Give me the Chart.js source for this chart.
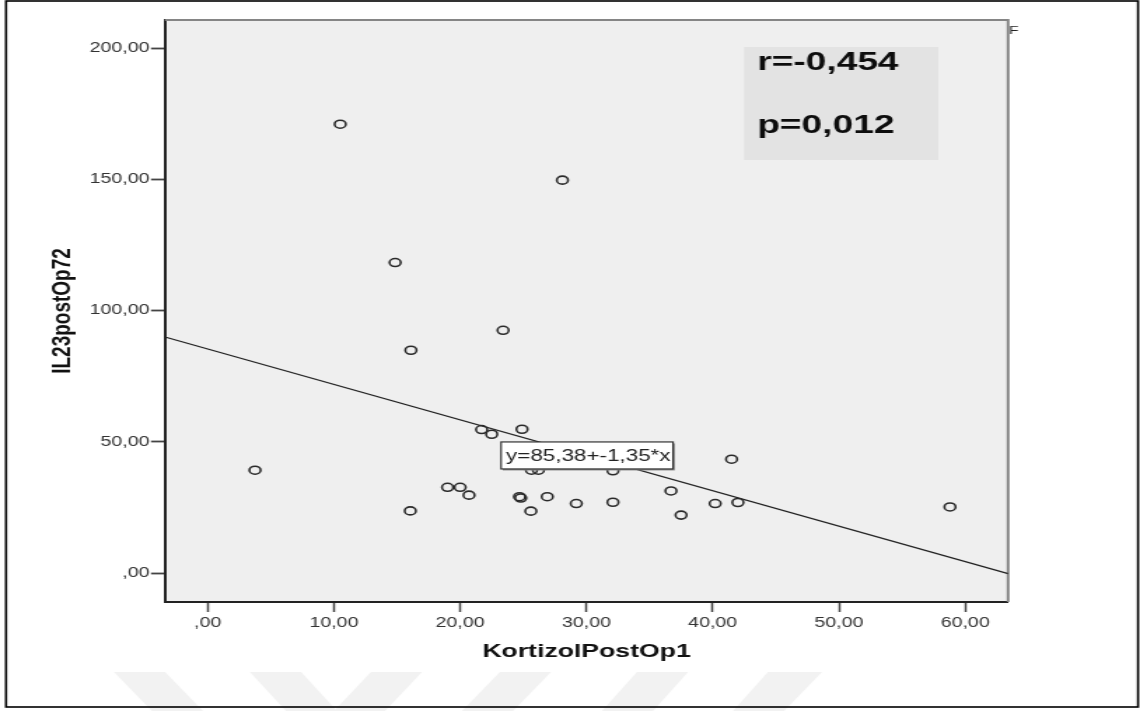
<!DOCTYPE html>
<html>
<head>
<meta charset="utf-8">
<script src="https://cdn.jsdelivr.net/npm/chart.js@4.4.0/dist/chart.umd.min.js"></script>
<style>
  html, body { margin: 0; padding: 0; background: #fff; overflow: hidden; }
  #chart { display: block; }
</style>
</head>
<body>
<!-- the original picture is stretched sideways, so draw narrow and widen it -->
<canvas id="chart" width="814" height="711" style="width:1140px;height:711px"></canvas>
<script>
// data
const kortizolPostOp1 = [3.75, 10.5, 14.85, 16.1, 16.05, 23.4, 28.1, 19.0, 20.0, 20.7,
  21.7, 22.5, 24.9, 25.65, 26.2, 32.1, 24.7, 24.8, 26.9, 25.6,
  29.2, 32.1, 36.7, 37.5, 40.2, 42.0, 41.5, 58.8];
const il23PostOp72 = [39.2, 171.0, 118.3, 84.9, 23.7, 92.5, 149.7, 32.7, 32.7, 29.7,
  54.7, 52.9, 54.8, 39.2, 39.2, 39.0, 29.1, 28.6, 29.1, 23.6,
  26.5, 27.0, 31.3, 22.1, 26.5, 26.9, 43.4, 25.2];
const xTicks = [0, 10, 20, 30, 40, 50, 60];
const yTicks = [0, 50, 100, 150, 200];
const xMin = -3.38, xMax = 63.4;
const yMin = -11, yMax = 210.7;
const fitIntercept = 85.38;
const fitSlope = -1.35;
const statLines = ["r=-0,454", "p=0,012"];
const fitLabel = "y=85,38+-1,35*x";

const sx = 1140 / 814; // horizontal stretch of the picture
const FONT = "'Liberation Sans', Arial, sans-serif";

function fmt(v) {
  return v === 0 ? ",00" : v.toFixed(2).replace(".", ",");
}

// faint watermark chevrons at the bottom (actual pixel x, top / bottom pairs)
const marks = [
  [114, 165, 203, 152],
  [250, 301, 337, 286],
  [371, 422, 385, 334],
  [500, 551, 513, 462],
  [637, 688, 653, 602],
  [768, 822, 784, 733],
];

const decor = {
  id: "decor",
  beforeDraw(chart) {
    const { ctx, chartArea: ca } = chart;
    ctx.save();
    ctx.fillStyle = "#fff";
    ctx.fillRect(0, 0, chart.width, chart.height);
    ctx.fillStyle = "#f2f2f2";
    marks.forEach((m) => {
      ctx.beginPath();
      ctx.moveTo(m[0] / sx, 672);
      ctx.lineTo(m[1] / sx, 672);
      ctx.lineTo(m[2] / sx, 711);
      ctx.lineTo(m[3] / sx, 711);
      ctx.closePath();
      ctx.fill();
    });
    ctx.fillStyle = "#efefef";
    ctx.fillRect(ca.left, ca.top, ca.right - ca.left, ca.bottom - ca.top);
    ctx.restore();
  },
  beforeDatasetsDraw(chart) {
    const { ctx, chartArea: ca } = chart;
    const cw = ca.right - ca.left, ch = ca.bottom - ca.top;
    // r / p box
    const bx = ca.left + 0.687 * cw, by = ca.top + 0.0464 * ch;
    ctx.save();
    ctx.fillStyle = "#e3e3e3";
    ctx.fillRect(bx, by, 194 / sx, 113);
    ctx.fillStyle = "#0d0d0d";
    ctx.font = "bold 26.5px " + FONT;
    ctx.textBaseline = "middle";
    ctx.fillText(statLines[0], bx + 9.3, by + 16);
    ctx.fillText(statLines[1], bx + 9.3, by + 79);
    // frame top and right
    ctx.strokeStyle = "#858585";
    ctx.lineWidth = 2;
    ctx.beginPath();
    ctx.moveTo(ca.left, ca.top);
    ctx.lineTo(ca.right, ca.top);
    ctx.lineTo(ca.right, ca.bottom);
    ctx.stroke();
    ctx.restore();
  },
  afterDatasetsDraw(chart) {
    const { ctx, chartArea: ca } = chart;
    const cw = ca.right - ca.left, ch = ca.bottom - ca.top;
    const bx = ca.left + 0.3986 * cw, by = ca.top + 0.725 * ch;
    const bw = 172 / sx, bh = 27;
    ctx.save();
    ctx.fillStyle = "#8a8a8a";
    ctx.fillRect(bx + 1.2, by + 1.5, bw, bh);
    ctx.fillStyle = "#fff";
    ctx.fillRect(bx, by, bw, bh);
    ctx.strokeStyle = "#333";
    ctx.lineWidth = 1.2;
    ctx.strokeRect(bx, by, bw, bh);
    ctx.fillStyle = "#222";
    ctx.font = "16px " + FONT;
    ctx.textBaseline = "middle";
    ctx.fillText(fitLabel, bx + 3.6, by + bh / 2 + 1);
    ctx.restore();
  },
  afterDraw(chart) {
    const { ctx } = chart;
    ctx.save();
    ctx.fillStyle = "#222";
    ctx.font = "11px " + FONT;
    ctx.textBaseline = "middle";
    ctx.fillText("F", 1009 / sx, 31);
    ctx.strokeStyle = "#000";
    ctx.lineWidth = 1.6;
    ctx.strokeRect(4.3, 1, 1138 / sx - 4.3, 706);
    ctx.restore();
  },
};

const points = kortizolPostOp1.map((x, i) => ({ x: x, y: il23PostOp72[i] }));
const fitLine = [xMin, xMax].map((x) => ({ x: x, y: fitIntercept + fitSlope * x }));

new Chart(document.getElementById("chart"), {
  type: "scatter",
  data: {
    datasets: [
      {
        data: points,
        pointStyle: "circle",
        pointRadius: 4,
        pointBorderWidth: 1.6,
        borderColor: "#2a2a2a",
        backgroundColor: "rgba(0,0,0,0)",
      },
      {
        type: "line",
        data: fitLine,
        borderColor: "#222",
        borderWidth: 1.3,
        pointRadius: 0,
        fill: false,
      },
    ],
  },
  options: {
    responsive: false,
    animation: false,
    devicePixelRatio: 1,
    layout: { padding: { left: 0, top: 20, right: 94.2, bottom: 0 } },
    plugins: { legend: { display: false }, tooltip: { enabled: false } },
    scales: {
      x: {
        type: "linear",
        position: "bottom",
        min: xMin,
        max: xMax,
        afterBuildTicks: (scale) => { scale.ticks = xTicks.map((v) => ({ value: v })); },
        afterFit: (scale) => { scale.height = 109; },
        grid: { drawOnChartArea: false, tickLength: 10, tickWidth: 1.5, tickColor: "#444" },
        border: { color: "#222", width: 2 },
        ticks: {
          padding: 3,
          color: "#333",
          font: { family: FONT, size: 14 },
          maxRotation: 0,
          callback: (v) => fmt(v),
        },
        title: {
          display: true,
          text: "KortizolPostOp1",
          color: "#111",
          font: { family: FONT, size: 19, weight: "bold" },
          padding: { top: 0, bottom: 47.6 },
        },
      },
      y: {
        type: "linear",
        min: yMin,
        max: yMax,
        afterBuildTicks: (scale) => { scale.ticks = yTicks.map((v) => ({ value: v })); },
        afterFit: (scale) => { scale.width = 117.8; },
        grid: { drawOnChartArea: false, tickLength: 10, tickWidth: 1.8, tickColor: "#444" },
        border: { color: "#222", width: 2 },
        ticks: {
          padding: 1,
          color: "#333",
          font: { family: FONT, size: 14 },
          callback: (v) => fmt(v),
        },
        title: {
          display: true,
          text: "IL23postOp72",
          color: "#111",
          font: { family: FONT, size: 19, weight: "bold" },
          padding: { top: 33, bottom: 0 },
        },
      },
    },
  },
  plugins: [decor],
});
</script>
</body>
</html>
